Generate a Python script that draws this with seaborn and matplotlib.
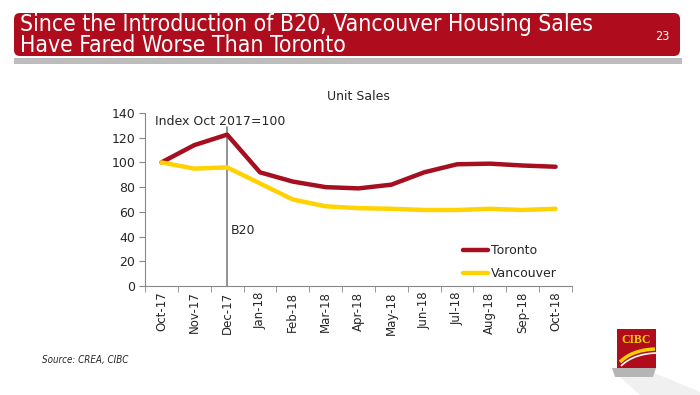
import matplotlib
matplotlib.use("Agg")
import matplotlib.pyplot as plt
import seaborn as sns
import pandas as pd
import numpy as np
from matplotlib.patches import FancyBboxPatch, Rectangle, Polygon

months = ["Oct-17", "Nov-17", "Dec-17", "Jan-18", "Feb-18", "Mar-18", "Apr-18",
          "May-18", "Jun-18", "Jul-18", "Aug-18", "Sep-18", "Oct-18"]
toronto = [100, 114, 122.5, 92, 84.5, 80, 79, 82, 92, 98.5, 99, 97.5, 96.5]
vancouver = [100, 95, 96, 83, 70, 64.5, 63, 62.5, 61.5, 61.5, 62.5, 61.5, 62.5]
yticks = [0, 20, 40, 60, 80, 100, 120, 140]

df = pd.DataFrame({
    "pos": list(range(len(months))) * 2,
    "value": toronto + vancouver,
    "city": ["Toronto"] * len(months) + ["Vancouver"] * len(months),
})

sns.set_style("white")
plt.rcParams['font.family'] = ['DejaVu Sans']

fig = plt.figure(figsize=(7, 3.95), dpi=100)
W, H = 700, 395

# Header / decorations
hdr = fig.add_axes([0, 0, 1, 1], zorder=-1)
hdr.set_xlim(0, W); hdr.set_ylim(H, 0); hdr.axis("off")
hdr.add_patch(Rectangle((14, 58), 668, 6, color="#bdbdbd", lw=0))
hdr.add_patch(FancyBboxPatch((14, 13), 666, 43, boxstyle="round,pad=0,rounding_size=6",
                             fc="#af0d1d", ec="none"))
hdr.text(20, 24, "Since the Introduction of B20, Vancouver Housing Sales",
         color="white", fontsize=16.5, va="center", ha="left", fontstretch="condensed")
hdr.text(20, 46, "Have Fared Worse Than Toronto",
         color="white", fontsize=16.5, va="center", ha="left", fontstretch="condensed")
hdr.text(670, 36, "23", color="white", fontsize=9, va="center", ha="right",
         fontstretch="condensed")
hdr.text(42, 360, "Source: CREA, CIBC", fontsize=7, style="italic", va="center", ha="left",
         fontstretch="condensed")

# CIBC logo
hdr.add_patch(Polygon([[612, 370], [652, 372], [700, 392], [700, 395], [640, 395]],
                      closed=True, fc="#f0f0f0", ec="none"))
hdr.add_patch(Polygon([[612, 368], [656, 368], [653, 377], [615, 377]], closed=True,
                      fc="#b5b5b5", ec="none"))
hdr.add_patch(Rectangle((617, 329), 39, 39, fc="#b00c1c", ec="none"))
hdr.text(636.5, 340, "CIBC", color="#f5d000", fontsize=8.5, fontweight="bold", ha="center",
         va="center", family="Liberation Serif")
t = np.linspace(0, 1, 30)
p0, p1, p2 = np.array([620, 362]), np.array([632, 350]), np.array([655, 349])
curve = ((1 - t) ** 2)[:, None] * p0 + (2 * (1 - t) * t)[:, None] * p1 + (t ** 2)[:, None] * p2
hdr.plot(curve[:, 0], curve[:, 1], color="#f5d000", lw=2.5, solid_capstyle="butt")
hdr.plot(curve[:, 0] + 1, curve[:, 1] + 4, color="white", lw=1.2, solid_capstyle="butt")

# Chart
ax = fig.add_axes([145 / W, 1 - 286 / H, (572 - 145) / W, (286 - 113) / H])
sns.lineplot(data=df, x="pos", y="value", hue="city",
             palette={"Toronto": "#a50f1f", "Vancouver": "#ffd200"},
             linewidth=3.2, ax=ax, legend=True)
ax.set_xlim(-0.5, len(months) - 0.5)
ax.set_ylim(0, 140)
ax.set_yticks(yticks)
ax.set_yticklabels([str(v) for v in yticks], fontsize=9)
ax.set_xticks(range(len(months)))
ax.set_xticklabels(months, rotation=90, fontsize=8.5)
ax.set_xticks(np.arange(-0.5, len(months)), minor=True)
ax.tick_params(axis="x", which="major", length=0, pad=4)
ax.tick_params(axis="x", which="minor", length=4, color="#888888", direction="out", bottom=True)
ax.tick_params(axis="y", length=4, color="#888888", direction="out", left=True, pad=3)
ax.set_xlabel(""); ax.set_ylabel("")
for s in ["top", "right"]:
    ax.spines[s].set_visible(False)
for s in ["left", "bottom"]:
    ax.spines[s].set_color("#888888")
    ax.spines[s].set_linewidth(0.8)

ax.plot([2, 2], [0, 129], color="#7f7f7f", lw=1.2, zorder=1)
ax.text(-0.2, 133, "Index Oct 2017=100", fontsize=9, va="center", ha="left")
ax.text(2.1, 45, "B20", fontsize=9, va="center", ha="left")
ax.set_title("Unit Sales", fontsize=9, pad=9)

leg = ax.legend(loc="lower right", bbox_to_anchor=(0.99, -0.03), frameon=False, fontsize=9,
                handlelength=2, handletextpad=0.2, labelspacing=0.8)
for line in leg.get_lines():
    line.set_linewidth(3.2)

fig.savefig("out.png", dpi=100)
